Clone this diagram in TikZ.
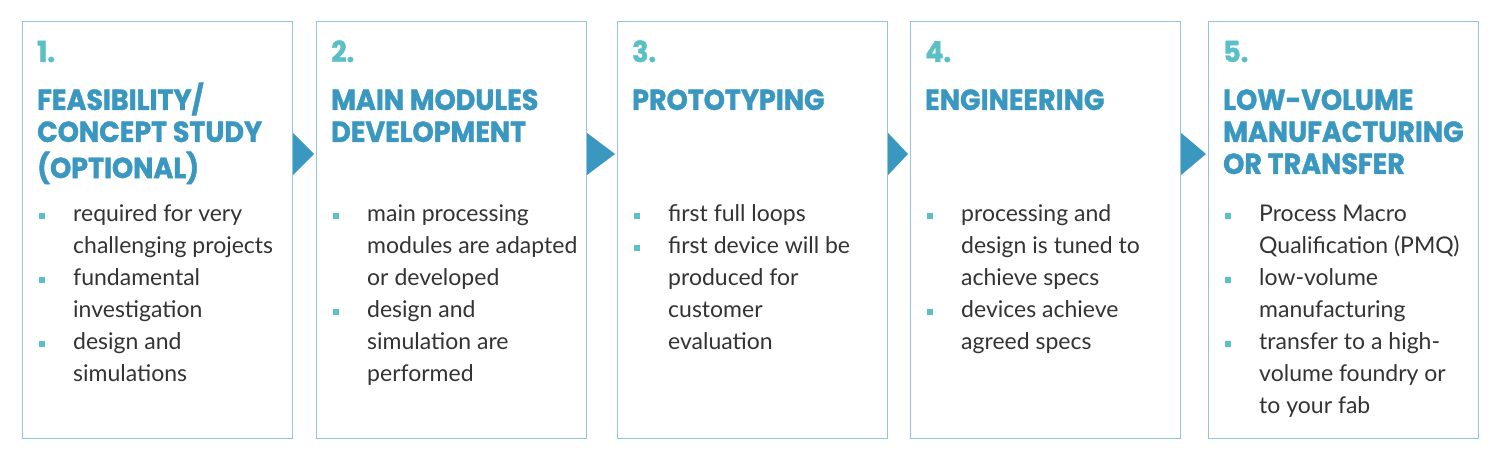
\documentclass[tikz,border=0pt]{standalone}
\usepackage{fontspec}
\setmainfont{Lato}
\newfontfamily\headfont{Poppins}[FakeStretch=0.93, FakeBold=1.3]
\usetikzlibrary{calc,positioning}
\definecolor{headblue}{HTML}{3A97C0}
\definecolor{numteal}{HTML}{5BBFC6}
\definecolor{framblue}{HTML}{93C5DD}
\definecolor{bodygray}{HTML}{333333}
\newcommand{\itm}{\leavevmode\llap{\textcolor{numteal}{\rule[3pt]{6pt}{6pt}}\hspace{28pt}}}
\newcommand{\rows}[1]{\begin{tabular}[t]{@{}l@{}}#1\end{tabular}}

\begin{document}
\begin{tikzpicture}[x=1pt, y=1pt,
                    stagebox/.style={draw=framblue, line width=1.1pt, minimum width=270pt, minimum height=417pt, anchor=north west, inner sep=0pt},
                    stepnum/.style={anchor=base west, inner sep=0pt, text=numteal, font=\headfont\bfseries\fontsize{29}{32}\selectfont},
                    stephead/.style={anchor=base west, inner sep=0pt, text=headblue, font=\headfont\bfseries\fontsize{29}{32}\selectfont},
                    stepbody/.style={anchor=base west, inner sep=0pt, text=bodygray, font=\fontsize{23}{32}\selectfont},
                    tri/.style={fill=headblue}]
    \useasboundingbox (0,0) rectangle (1500,460);
    % stage frames
    \node[stagebox] (s1) at (22,439) {};
    \node[stagebox] (s2) at (316,439) {};
    \node[stagebox] (s3) at (617,439) {};
    \node[stagebox] (s4) at (910,439) {};
    \node[stagebox] (s5) at (1208,439) {};
    % numbers
    \node[stepnum] (n1) at ($(s1.north west)+(15,-41)$) {1.};
    \node[stepnum] (n2) at ($(s2.north west)+(15,-41)$) {2.};
    \node[stepnum] (n3) at ($(s3.north west)+(15,-41)$) {3.};
    \node[stepnum] (n4) at ($(s4.north west)+(15,-41)$) {4.};
    \node[stepnum] (n5) at ($(s5.north west)+(15,-41)$) {5.};
    % headings
    \node[stephead] (h1) at ($(s1.north west)+(15,-89)$) {\rows{FEASIBILITY/\\CONCEPT STUDY\\(OPTIONAL)}};
    \node[stephead] (h2) at ($(s2.north west)+(15,-89)$) {\rows{MAIN MODULES\\DEVELOPMENT}};
    \node[stephead] (h3) at ($(s3.north west)+(15,-89)$) {PROTOTYPING};
    \node[stephead] (h4) at ($(s4.north west)+(15,-89)$) {ENGINEERING};
    \node[stephead] (h5) at ($(s5.north west)+(15,-89)$) {\rows{LOW-VOLUME\\MANUFACTURING\\OR TRANSFER}};
    % bullet lists
    \node[stepbody] (b1) at ($(s1.north west)+(51,-201)$) {\rows{\itm required for very\\challenging projects\\\itm fundamental\\investigation\\\itm design and\\simulations}};
    \node[stepbody] (b2) at ($(s2.north west)+(51,-201)$) {\rows{\itm main processing\\modules are adapted\\or developed\\\itm design and\\simulation are\\performed}};
    \node[stepbody] (b3) at ($(s3.north west)+(51,-201)$) {\rows{\itm first full loops\\\itm first device will be\\produced for\\customer\\evaluation}};
    \node[stepbody] (b4) at ($(s4.north west)+(51,-201)$) {\rows{\itm processing and\\design is tuned to\\achieve specs\\\itm devices achieve\\agreed specs}};
    \node[stepbody] (b5) at ($(s5.north west)+(51,-201)$) {\rows{\itm Process Macro\\Qualification (PMQ)\\\itm low-volume\\manufacturing\\\itm transfer to a high-\\volume foundry or\\to your fab}};
    % arrows between stages
    \foreach \a/\b in {s1/s2, s2/s3, s3/s4, s4/s5}
        \fill[tri] ($(\a.north east)+(0,-112)$) -- ($(\a.north east)+(0,-154)$) -- ($(\b.north west)+(-2,-133)$) -- cycle;
\end{tikzpicture}
\end{document}
